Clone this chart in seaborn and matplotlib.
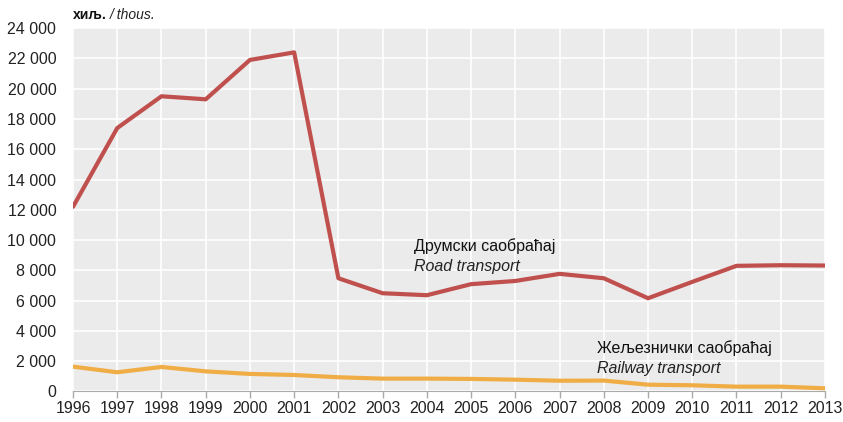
import matplotlib
matplotlib.use("Agg")
import matplotlib.pyplot as plt
import seaborn as sns
import pandas as pd
from matplotlib.ticker import FuncFormatter

# Data (thousands)
years = list(range(1996, 2014))
road = [12200, 17400, 19500, 19300, 21900, 22400, 7480, 6490, 6360, 7090,
        7300, 7770, 7480, 6160, 7240, 8300, 8340, 8320]
rail = [1640, 1270, 1620, 1330, 1160, 1090, 940, 850, 850, 830,
        780, 710, 720, 450, 410, 320, 320, 210]

road_color = "#c0504d"
rail_color = "#f0ad45"

sns.set_style("darkgrid", {"axes.facecolor": "#ebebeb", "grid.color": "white"})
plt.rcParams['font.family'] = ['Liberation Sans', 'DejaVu Sans']

df = pd.DataFrame({"year": years, "road": road, "rail": rail})

fig = plt.figure(figsize=(8.43, 4.22), dpi=100)
ax = fig.add_axes([0.0866, 0.0723, 0.892, 0.861])

sns.lineplot(data=df, x="year", y="road", color=road_color, linewidth=3, ax=ax)
sns.lineplot(data=df, x="year", y="rail", color=rail_color, linewidth=3, ax=ax)

ax.set_xlim(1996, 2013)
ax.set_ylim(0, 24000)
ax.set_xticks(years)
ax.set_yticks(range(0, 24001, 2000))
ax.yaxis.set_major_formatter(FuncFormatter(lambda v, p: f"{int(v):,}".replace(",", " ")))
ax.tick_params(axis="both", labelsize=11.5, colors="#222222")
ax.tick_params(axis="x", length=5, width=1, color="#aaaaaa", pad=2, bottom=True)
ax.tick_params(axis="y", length=0, pad=12)
ax.set_xlabel("")
ax.set_ylabel("")
ax.grid(True, color="white", linewidth=1.2)
for s in ["top", "right", "left"]:
    ax.spines[s].set_visible(False)
ax.spines["bottom"].set_visible(True)
ax.spines["bottom"].set_color("#aaaaaa")

# Annotations
ax.text(2003.7, 9100, "Друмски саобраћај", fontsize=11.5, color="#111111", va="bottom")
ax.text(2003.7, 7750, "Road transport", fontsize=11.5, style="italic", color="#222222", va="bottom")
ax.text(2007.85, 2350, "Жељезнички саобраћај", fontsize=11.5, color="#111111", va="bottom")
ax.text(2007.85, 1000, "Railway transport", fontsize=11.5, style="italic", color="#222222", va="bottom")

# unit label above the plot
t1 = fig.text(0.0866, 0.955, "хиљ.", fontsize=10, fontweight="bold", color="#111111")
fig.canvas.draw()
bb = t1.get_window_extent()
fig.text((bb.x1 + 3) / fig.bbox.width, 0.955, "/ thous.", fontsize=10, style="italic", color="#222222")

fig.savefig("out.png", dpi=100)
